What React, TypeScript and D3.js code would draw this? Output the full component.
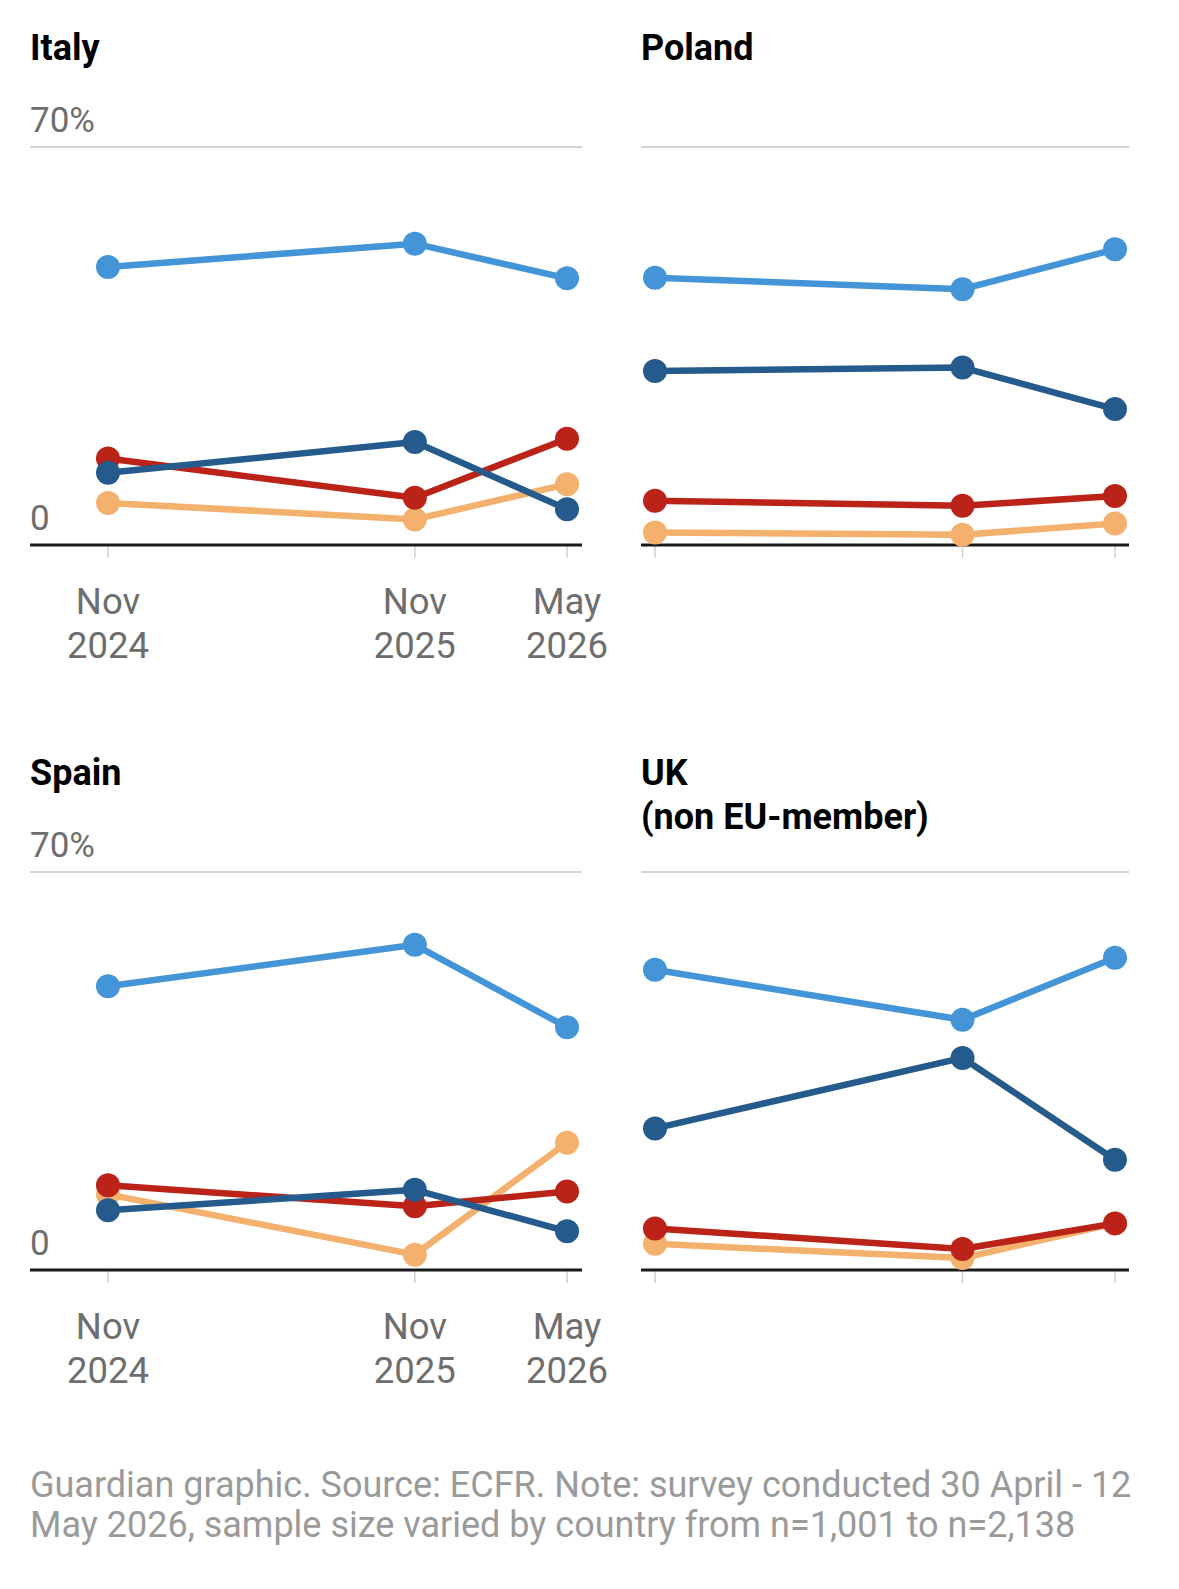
import React from "react";
import * as d3 from "d3";

// ---- Data ----
const dates = [new Date(2024, 10, 1), new Date(2025, 10, 1), new Date(2026, 4, 1)];
const dateLabels = [["Nov", "2024"], ["Nov", "2025"], ["May", "2026"]];
const countries = ["Italy", "Poland", "Spain", "UK\n(non EU-member)"];
const yTicks = [0, 70];

const seriesNames = ["Series D", "Series C", "Series B", "Series A"]; // draw order bottom -> top
const seriesColors = ["#f4b06d", "#bb2218", "#245a8c", "#4495d8"];

// values per country, series order as above: orange, red, dark blue, light blue
const italyOrange = [7.4, 4.5, 10.7];
const italyRed = [15.2, 8.3, 18.7];
const italyDarkBlue = [12.7, 18.1, 6.3];
const italyLightBlue = [48.9, 53, 46.9];

const polandOrange = [2.2, 1.8, 3.8];
const polandRed = [7.8, 6.9, 8.6];
const polandDarkBlue = [30.6, 31.2, 23.9];
const polandLightBlue = [47, 45, 52];

const spainOrange = [13.3, 2.7, 22.4];
const spainRed = [14.9, 11.2, 13.8];
const spainDarkBlue = [10.5, 14.1, 6.8];
const spainLightBlue = [49.9, 57.2, 42.7];

const ukOrange = [4.6, 2.1, 8.2];
const ukRed = [7.3, 3.7, 8.2];
const ukDarkBlue = [24.9, 37.3, 19.4];
const ukLightBlue = [52.8, 44, 54.9];

const countryData = [
  [italyOrange, italyRed, italyDarkBlue, italyLightBlue],
  [polandOrange, polandRed, polandDarkBlue, polandLightBlue],
  [spainOrange, spainRed, spainDarkBlue, spainLightBlue],
  [ukOrange, ukRed, ukDarkBlue, ukLightBlue],
];

const footnote = [
  "Guardian graphic. Source: ECFR. Note: survey conducted 30 April - 12",
  "May 2026, sample size varied by country from n=1,001 to n=2,138",
];

// ---- Layout ----
const W = 1179;
const H = 1589;
const FONT = "Roboto, 'Open Sans', Arial, sans-serif";

const panels = [
  { col: 0, row: 0, labels: true },
  { col: 1, row: 0, labels: false },
  { col: 0, row: 1, labels: true },
  { col: 1, row: 1, labels: false },
];
const colGeom = [
  { gx0: 30, gx1: 582, px0: 108, px1: 567 },
  { gx0: 641, gx1: 1129, px0: 655, px1: 1115 },
];
const ROW_DY = 725;

function Panel({ idx }: { idx: number }) {
  const p = panels[idx];
  const g = colGeom[p.col];
  const oy = p.row * ROW_DY;
  const gridY = 147 + oy;
  const baseY = 545 + oy;
  const x = d3.scaleTime().domain([dates[0], dates[dates.length - 1]]).range([g.px0, g.px1]);
  const y = d3.scaleLinear().domain([yTicks[0], yTicks[1]]).range([baseY, gridY]);
  const line = d3
    .line<number>()
    .x((_, i) => x(dates[i]))
    .y((v) => y(v));
  const titleLines = countries[idx].split("\n");
  const series = countryData[idx];

  return (
    <g>
      {titleLines.map((t, i) => (
        <text
          key={i}
          x={g.gx0}
          y={60 + oy + i * 44}
          fontFamily={FONT}
          fontWeight={700}
          fontSize={36}
          fill="#000"
        >
          {t}
        </text>
      ))}
      {p.labels && (
        <text x={g.gx0} y={y(yTicks[1]) - 15} fontFamily={FONT} fontSize={35} fill="#6e6e6e">
          {yTicks[1] + "%"}
        </text>
      )}
      {p.labels && (
        <text x={g.gx0} y={y(yTicks[0]) - 15} fontFamily={FONT} fontSize={35} fill="#6e6e6e">
          {String(yTicks[0])}
        </text>
      )}
      <line x1={g.gx0} x2={g.gx1} y1={y(yTicks[1])} y2={y(yTicks[1])} stroke="#d4d4d4" strokeWidth={2} />
      {dates.map((d, i) => (
        <line key={i} x1={x(d)} x2={x(d)} y1={baseY} y2={baseY + 13} stroke="#cfcfcf" strokeWidth={1.5} />
      ))}
      <line x1={g.gx0} x2={g.gx1} y1={baseY} y2={baseY} stroke="#1a1a1a" strokeWidth={3} />
      {p.labels &&
        dates.map((d, i) => (
          <text key={i} x={x(d)} textAnchor="middle" fontFamily={FONT} fontSize={36.5} fill="#6e6e6e">
            <tspan x={x(d)} y={baseY + 69}>
              {dateLabels[i][0]}
            </tspan>
            <tspan x={x(d)} y={baseY + 113}>
              {dateLabels[i][1]}
            </tspan>
          </text>
        ))}
      {series.map((vals, si) => (
        <g key={si}>
          <path d={line(vals) || ""} fill="none" stroke={seriesColors[si]} strokeWidth={6.5} strokeLinejoin="round" />
          {vals.map((v, i) => (
            <circle key={i} cx={x(dates[i])} cy={y(v)} r={12} fill={seriesColors[si]} />
          ))}
        </g>
      ))}
    </g>
  );
}

export default function App() {
  return (
    <svg
      width={W}
      height={H}
      viewBox={`0 0 ${W} ${H}`}
      style={{ position: "absolute", left: 0, top: 0, background: "#fff" }}
    >
      <rect x={0} y={0} width={W} height={H} fill="#fff" />
      {panels.map((_, i) => (
        <Panel key={i} idx={i} />
      ))}
      {footnote.map((t, i) => (
        <text key={i} x={30} y={1497 + i * 40} fontFamily={FONT} fontSize={36} fill="#9a9a9a">
          {t}
        </text>
      ))}
    </svg>
  );
}
